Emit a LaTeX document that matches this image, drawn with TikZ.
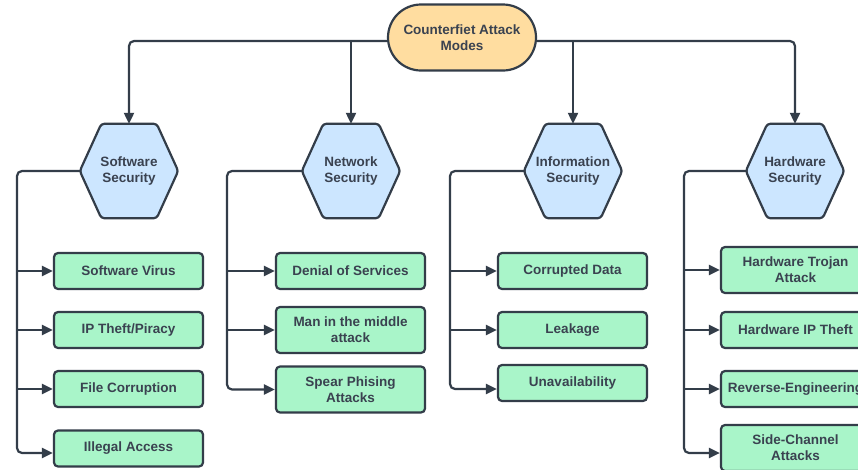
\documentclass[tikz,border=0pt]{standalone}
\usepackage{fontspec}
\setmainfont{Liberation Sans}
\usetikzlibrary{arrows.meta}

\definecolor{ink}{HTML}{333D49}
\definecolor{txt}{HTML}{3A4250}
\definecolor{pillfill}{HTML}{FFDDA0}
\definecolor{hexfill}{HTML}{CCE6FF}
\definecolor{leaffill}{HTML}{A9F5C9}

\tikzset{
  every node/.style={font=\bfseries\fontsize{13.5}{16}\selectfont, text=txt, align=center},
  pill/.style={draw=ink, line width=2.2pt, fill=pillfill, rounded corners=33pt,
    minimum width=148pt, minimum height=66pt, inner sep=0pt},
  hexarea/.style={minimum width=98pt, minimum height=94pt, inner sep=0pt},
  hexline/.style={draw=ink, fill=hexfill, line width=2.2pt, rounded corners=3pt, line join=round},
  leaf/.style={draw=ink, line width=2.2pt, fill=leaffill, rounded corners=4pt,
    minimum width=149pt, minimum height=36pt, inner sep=0pt},
  tall/.style={minimum height=46pt},
  link/.style={draw=ink, line width=2.2pt, rounded corners=5pt,
    -{Triangle[length=11pt,width=10pt]}},
}

% hexagon category node: name, centre, label
\newcommand\hexnode[3]{%
  \node[hexarea] (#1) at (#2) {};
  \path[hexline] (#1.west) -- ([xshift=21.5pt]#1.north west) -- ([xshift=-21.5pt]#1.north east)
    -- (#1.east) -- ([xshift=-21.5pt]#1.south east) -- ([xshift=21.5pt]#1.south west) -- cycle;
  \node (#1-label) at (#1) {#3};
}

\begin{document}
\begin{tikzpicture}[x=1pt, y=-1pt]
  \useasboundingbox (0,0) rectangle (858,469);
  \fill[white] (0,0) rectangle (858,469);
  \clip (0,0) rectangle (858,469);

  % root
  \node[pill] (root) at (462,37.5) {Counterfiet Attack\\Modes};
  \coordinate (root-l) at ([yshift=-3.5pt]root.west);
  \coordinate (root-r) at ([yshift=-3.5pt]root.east);

  % categories
  \hexnode{sw}{129,171}{Software\\Security}
  \hexnode{nw}{351,171}{Network\\Security}
  \hexnode{iw}{573,171}{Information\\Security}
  \hexnode{hw}{795,171}{Hardware\\Security}

  % root to categories
  \draw[link] (root-l) -| (sw.north);
  \draw[link] (nw.north |- root-l) -- (nw.north);
  \draw[link] (iw.north |- root-r) -- (iw.north);
  \draw[link] (root-r) -| (hw.north);

  % software leaves
  \node[leaf] (s1) at (128.5,271) {Software Virus};
  \node[leaf] (s2) at (128.5,330) {IP Theft/Piracy};
  \node[leaf] (s3) at (128.5,389) {File Corruption};
  \node[leaf] (s4) at (128.5,448.5) {Illegal Access};
  \coordinate (s-bus) at (17,171);
  \coordinate (s4-in) at ([yshift=-4.5pt]s4.west);
  \draw[link] (sw.west) -| (s-bus |- s4-in) -- (s4-in);
  \foreach \n in {s1,s2,s3} \draw[link] (s-bus |- \n.west) -- (\n.west);

  % network leaves
  \node[leaf] (n1) at (350.5,271) {Denial of Services};
  \node[leaf,tall] (n2) at (350.5,330) {Man in the middle\\attack};
  \node[leaf,tall] (n3) at (350.5,389.5) {Spear Phising\\Attacks};
  \coordinate (n-bus) at (227,171);
  \draw[link] (nw.west) -| (n-bus |- n3.west) -- (n3.west);
  \foreach \n in {n1,n2} \draw[link] (n-bus |- \n.west) -- (\n.west);

  % information leaves
  \node[leaf] (i1) at (572.5,271) {Corrupted Data};
  \node[leaf] (i2) at (572.5,330) {Leakage};
  \node[leaf] (i3) at (572.5,383) {Unavailability};
  \coordinate (i-bus) at (450,171);
  \coordinate (i3-in) at ([yshift=-6pt]i3.west);
  \draw[link] (iw.west) -| (i-bus |- i3-in) -- (i3-in);
  \foreach \n in {i1,i2} \draw[link] (i-bus |- \n.west) -- (\n.west);

  % hardware leaves
  \node[leaf,tall] (h1) at (795.5,270) {Hardware Trojan\\Attack};
  \node[leaf] (h2) at (795.5,330) {Hardware IP Theft};
  \node[leaf] (h3) at (795.5,389) {Reverse-Engineering};
  \node[leaf,tall] (h4) at (795.5,448) {Side-Channel\\Attacks};
  \coordinate (h-bus) at (684,171);
  \coordinate (h4-in) at ([yshift=-5pt]h4.west);
  \draw[link] (hw.west) -| (h-bus |- h4-in) -- (h4-in);
  \foreach \n in {h1,h2,h3} \draw[link] (h-bus |- \n.west) -- (\n.west);
\end{tikzpicture}
\end{document}
